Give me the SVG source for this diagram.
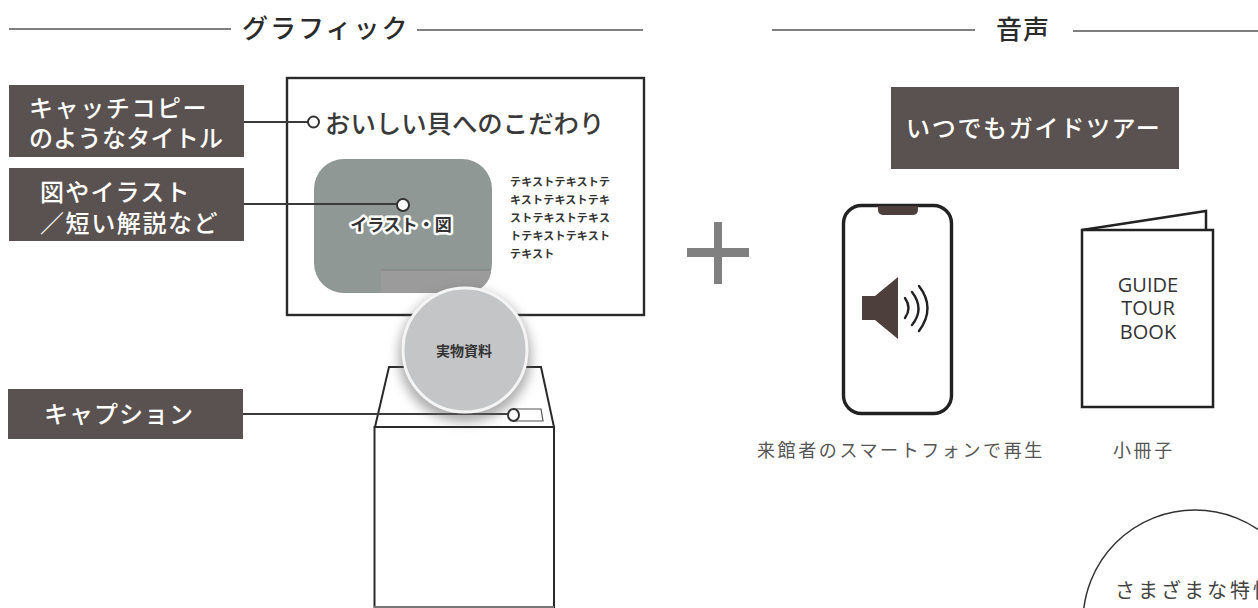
<svg xmlns="http://www.w3.org/2000/svg" width="1258" height="608" viewBox="0 0 1258 608">
<style>
  text { font-family: "Noto Sans CJK JP", "Noto Sans", sans-serif; }
  .head { font-size: 26px; fill: #2b2b2b; letter-spacing: 2px; font-weight: 500; }
  .rule { stroke: #555; stroke-width: 1.6; fill: none; }
  .label { fill: #5a5250; }
  .ltxt { font-size: 24px; fill: #fff; font-weight: 500; }
  .line { stroke: #3a3a3a; stroke-width: 2; fill: none; }
  .box { fill: #fff; stroke: #2a2a2a; stroke-width: 2.4; }
  .stand { fill: #fff; stroke: #2a2a2a; stroke-width: 2; }
  .dot { fill: #fff; stroke: #333; stroke-width: 2; }
  .body { font-size: 11px; fill: #333; font-weight: 700; letter-spacing: 0.2px; }
  .cap { font-size: 18px; fill: #555; letter-spacing: 2.6px; }
  .book { font-family: "Open Sans", "Noto Sans", sans-serif; font-size: 20px; fill: #333; text-anchor: middle; }
</style>
<defs>
  <filter id="shade" x="-30%" y="-30%" width="160%" height="160%">
    <feGaussianBlur stdDeviation="6"/>
  </filter>
</defs>
<rect width="1258" height="608" fill="#fff"/>

<g id="section-graphic">
  <line class="rule" x1="9" y1="29" x2="231" y2="29"/>
  <line class="rule" x1="417" y1="30" x2="643" y2="30"/>
  <text class="head" x="242" y="38">グラフィック</text>
</g>

<g id="section-audio">
  <line class="rule" x1="772" y1="30" x2="975" y2="30"/>
  <line class="rule" x1="1073" y1="31" x2="1258" y2="31"/>
  <text class="head" x="996" y="39" style="letter-spacing:1px">音声</text>
</g>

<g id="panel">
  <rect class="box" x="287" y="78" width="357" height="237"/>
  <text x="325" y="133" font-size="25.400" fill="#3a3a3a" font-weight="500">おいしい貝へのこだわり</text>
  <rect x="314" y="159" width="178" height="134" rx="30" fill="#8f9895"/>
  <path d="M381 270H491V273Q486 293 462 293H381Z" fill="#9a9b9a"/>
  <line x1="381" y1="270" x2="491" y2="270" stroke="#84807f" stroke-width="1"/>
  <text x="401" y="231" font-size="17" text-anchor="middle" font-weight="700" fill="#333" stroke="#fff" stroke-width="5" stroke-linejoin="round" paint-order="stroke">イラスト・図</text>
  <text class="body" x="510" y="186">テキストテキストテ</text>
  <text class="body" x="510" y="204">キストテキストテキ</text>
  <text class="body" x="510" y="222">ストテキストテキス</text>
  <text class="body" x="510" y="240">トテキストテキスト</text>
  <text class="body" x="510" y="258">テキスト</text>
</g>

<g id="plinth">
  <path class="stand" d="M375 427 389 367H541L554 427Z"/>
  <path class="stand" d="M374.500 608V427H554V608"/>
  <line x1="374" y1="607" x2="554" y2="607" stroke="#777" stroke-width="2"/>
</g>

<g id="caption-plate">
  <path d="M514 409H541L543 421H514Z" fill="#fff" stroke="#555" stroke-width="1.200"/>
</g>

<g id="connectors">
  <line class="line" x1="244" y1="122" x2="308" y2="122"/>
  <line class="line" x1="244" y1="204" x2="398" y2="204"/>
  <line class="line" x1="243" y1="414" x2="508" y2="414"/>
</g>

<g id="markers">
  <circle class="dot" cx="313.500" cy="122" r="5.500"/>
  <circle class="dot" cx="403" cy="205" r="6"/>
  <ellipse class="dot" cx="513.500" cy="415" rx="5.500" ry="6"/>
</g>

<g id="specimen">
  <circle cx="465" cy="356" r="66" fill="#666" opacity="0.55" filter="url(#shade)"/>
  <circle cx="465" cy="350" r="62" fill="#c3c5c6" stroke="#f4f4f4" stroke-width="3"/>
  <text x="464" y="356" font-size="14" text-anchor="middle" font-weight="700" fill="#333">実物資料</text>
</g>

<g id="label-catch">
  <rect class="label" x="9" y="85" width="235" height="72"/>
  <text class="ltxt" x="29" y="117" letter-spacing="1.600">キャッチコピー</text>
  <text class="ltxt" x="29" y="147" letter-spacing="0.300">のようなタイトル</text>
</g>

<g id="label-figure">
  <rect class="label" x="9" y="168" width="235" height="73"/>
  <text class="ltxt" x="40" y="201" letter-spacing="1.200">図やイラスト</text>
  <text class="ltxt" x="40" y="232" letter-spacing="1.600">／短い解説など</text>
</g>

<g id="label-caption">
  <rect class="label" x="8" y="389" width="235" height="50"/>
  <text class="ltxt" x="44" y="423" letter-spacing="1">キャプション</text>
</g>

<g id="label-tour">
  <rect class="label" x="891" y="87" width="288" height="82"/>
  <text class="ltxt" x="906" y="137" letter-spacing="1.700">いつでもガイドツアー</text>
</g>

<g id="plus">
  <rect x="714" y="222" width="8" height="62" fill="#808080"/>
  <rect x="687" y="248" width="62" height="9" fill="#808080"/>
</g>

<g id="phone">
  <rect x="843.500" y="205.500" width="108" height="208" rx="18" fill="#fff" stroke="#222" stroke-width="3.400"/>
  <path d="M878 206H918V210Q918 215 912 215H884Q878 215 878 210Z" fill="#4d403c"/>
  <path d="M862 296H875L898 277V339L875 320H862Z" fill="#4d403c"/>
  <path d="M905 298q7 10 0 20M912 292q13 17 0 33M919 286q17 22 0 45" fill="none" stroke="#222" stroke-width="2.400" stroke-linecap="round"/>
  <text class="cap" x="757" y="457">来館者のスマートフォンで再生</text>
</g>

<g id="booklet">
  <path d="M1082 230 1206 211V230" fill="none" stroke="#222" stroke-width="2.500"/>
  <rect x="1082" y="230" width="131" height="177" fill="#fff" stroke="#222" stroke-width="2.500"/>
  <text class="book" x="1148" y="292">GUIDE</text>
  <text class="book" x="1148" y="315">TOUR</text>
  <text class="book" x="1148" y="339">BOOK</text>
  <text class="cap" x="1113" y="457">小冊子</text>
</g>

<g id="note-circle">
  <circle cx="1195" cy="622" r="112" fill="#fff" stroke="#333" stroke-width="1.500"/>
  <text x="1115" y="598" font-size="20" fill="#444" letter-spacing="3">さまざまな特性</text>
</g>
</svg>
